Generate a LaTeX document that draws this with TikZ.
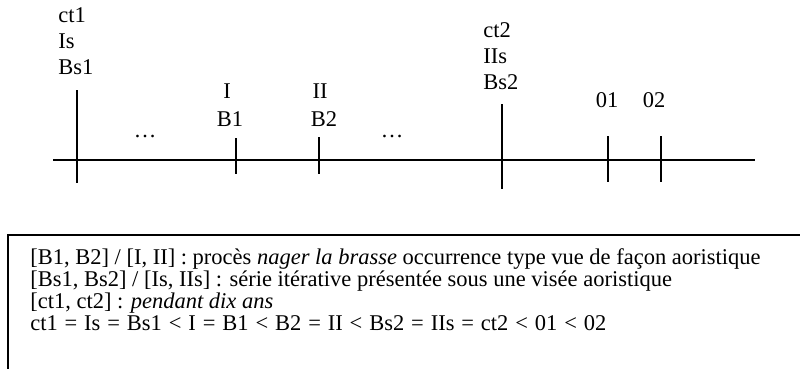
\documentclass[tikz,border=0pt]{standalone}
\usepackage{fontspec}
\setmainfont{Liberation Serif}
\usetikzlibrary{positioning}

\begin{document}
\begin{tikzpicture}[
    x = 0.025cm, y = -0.025cm,
    every node/.style = {font = \fontsize{16}{16}\selectfont, inner sep = 0pt},
    lbl/.style        = {anchor = base west},
    clbl/.style       = {anchor = base},
    axis/.style       = {line width = 1.1pt},
    tick/.style       = {line width = 1.3pt},
    frame/.style      = {line width = 1pt},
    legend/.style     = {anchor = north west, align = left, font = \fontsize{16}{15.8}\selectfont},
]
\useasboundingbox (0,0) rectangle (800,368);

% ---------- time axis ----------
\coordinate (axl) at ( 53, 160);
\coordinate (axr) at (755, 160);
\draw[axis] (axl) -- (axr);

% ---------- ticks: (x, top) and (x, bottom) ----------
\coordinate (ct1top) at ( 77,  90); \coordinate (ct1bot) at ( 77, 183);
\coordinate (b1top)  at (236, 138); \coordinate (b1bot)  at (236, 174);
\coordinate (b2top)  at (319, 137); \coordinate (b2bot)  at (319, 174);
\coordinate (ct2top) at (502, 104); \coordinate (ct2bot) at (502, 189);
\coordinate (o1top)  at (608, 136); \coordinate (o1bot)  at (608, 182);
\coordinate (o2top)  at (661, 136); \coordinate (o2bot)  at (661, 182);

\draw[tick] (ct1top) -- (ct1bot);
\draw[tick] (b1top)  -- (b1bot);
\draw[tick] (b2top)  -- (b2bot);
\draw[tick] (ct2top) -- (ct2bot);
\draw[tick] (o1top)  -- (o1bot);
\draw[tick] (o2top)  -- (o2bot);

% ---------- labels above the ticks ----------
\node[lbl]  (ct1) at ( 58,  22) {ct1};
\node[lbl]  (Is)  at ( 58,  48) {Is};
\node[lbl]  (Bs1) at ( 58,  74) {Bs1};

\node[clbl] (I)   at (227,  98) {I};
\node[clbl] (B1)  at (230, 126) {B1};
\node[clbl] (II)  at (320,  98) {II};
\node[clbl] (B2)  at (324, 126) {B2};

\node[clbl] (dotsa) at (145, 137) {\dots};
\node[clbl] (dotsb) at (392, 137) {\dots};

\node[lbl]  (ct2) at (483,  37) {ct2};
\node[lbl]  (IIs) at (483,  63) {IIs};
\node[lbl]  (Bs2) at (483,  89) {Bs2};

\node[clbl] (O1)  at (607, 107) {01};
\node[clbl] (O2)  at (654, 107) {02};

% ---------- legend box (runs off the right and bottom edges) ----------
\coordinate (frameul) at (8, 235);
\draw[frame] (8, 380) -- (frameul) -- (812, 235);

\node[legend] (leg) at (30, 248) {%
    {[}B1, B2] / [I, II] : procès \textit{nager la brasse} occurrence type vue de façon aoristique\\
    {[}Bs1, Bs2] / [Is, IIs] : série itérative présentée sous une visée aoristique\\
    {[}ct1, ct2] : \textit{pendant dix ans}\\
    {\spaceskip=4.9pt ct1 = Is = Bs1 < I = B1 < B2 = II < Bs2 = IIs = ct2 < 01 < 02}};

\end{tikzpicture}
\end{document}
